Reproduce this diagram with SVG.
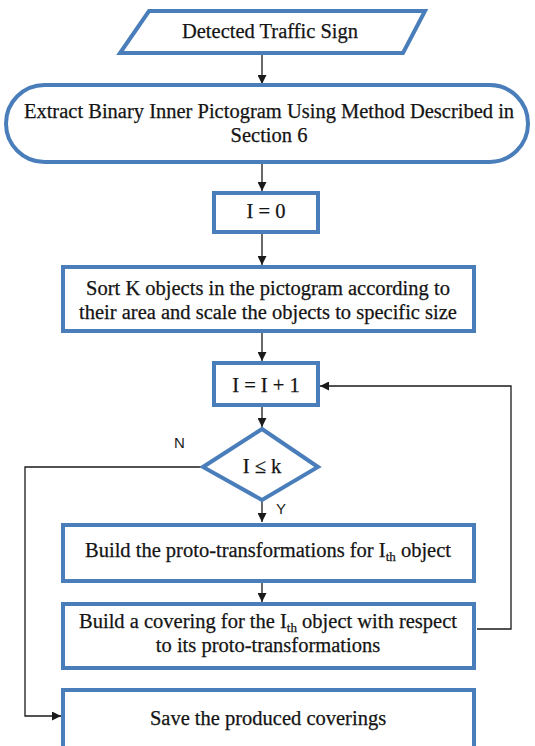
<svg xmlns="http://www.w3.org/2000/svg" width="535" height="746" viewBox="0 0 535 746">
  <style>
    .shape { fill: #ffffff; stroke: #4a7ebb; stroke-width: 4; }
    .label { font-family: 'Liberation Serif', 'DejaVu Serif', serif; font-size: 20.5px; fill: #141414; stroke: #141414; stroke-width: 0.25; text-anchor: middle; }
    .flag { font-family: 'Liberation Sans', Arial, sans-serif; font-size: 15px; fill: #1a1a1a; }
    .wire { fill: none; stroke: #1a1a1a; stroke-width: 1.3; }
    .sub { font-size: 13px; }
  </style>
  <defs>
    <marker id="arrow" viewBox="0 0 10 10" refX="10" refY="5" markerWidth="9" markerHeight="9" markerUnits="userSpaceOnUse" orient="auto">
      <path d="M0,0 L10,5 L0,10 z" fill="#1a1a1a"/>
    </marker>
  </defs>
  <rect width="535" height="746" fill="#ffffff"/>

  <g id="connectors">
    <line class="wire" x1="262" y1="55" x2="262" y2="84" marker-end="url(#arrow)"/>
    <line class="wire" x1="262" y1="163" x2="262" y2="191" marker-end="url(#arrow)"/>
    <line class="wire" x1="262" y1="233" x2="262" y2="265" marker-end="url(#arrow)"/>
    <line class="wire" x1="262" y1="333" x2="262" y2="361" marker-end="url(#arrow)"/>
    <line class="wire" x1="262" y1="406" x2="262" y2="427" marker-end="url(#arrow)"/>
    <line class="wire" x1="262" y1="501" x2="262" y2="522" marker-end="url(#arrow)"/>
    <line class="wire" x1="262" y1="582" x2="262" y2="602" marker-end="url(#arrow)"/>
    <polyline class="wire" points="477,629 511,629 511,386 320,386" marker-end="url(#arrow)"/>
    <polyline class="wire" points="202,467 25,467 25,716 61,716" marker-end="url(#arrow)"/>
    <text class="flag" x="174" y="448">N</text>
    <text class="flag" x="276" y="514">Y</text>
  </g>

  <g id="detected-sign">
    <polygon class="shape" points="149,11 425,11 403,53 120,53"/>
    <text class="label" x="270" y="38">Detected Traffic Sign</text>
  </g>

  <g id="extract-pictogram">
    <rect class="shape" x="6" y="85" width="522" height="77" rx="38.5" ry="38.5"/>
    <text class="label" x="269" y="118">Extract Binary Inner Pictogram Using Method Described in</text>
    <text class="label" x="269" y="142">Section 6</text>
  </g>

  <g id="init-counter">
    <rect class="shape" x="214" y="193" width="104" height="39"/>
    <text class="label" x="266" y="218">I = 0</text>
  </g>

  <g id="sort-objects">
    <rect class="shape" x="63" y="267" width="411" height="64"/>
    <text class="label" x="268" y="295">Sort K objects in the pictogram according to</text>
    <text class="label" x="268" y="319">their area and scale the objects to specific size</text>
  </g>

  <g id="increment-counter">
    <rect class="shape" x="214" y="363" width="104" height="42"/>
    <text class="label" x="266" y="392">I = I + 1</text>
  </g>

  <g id="loop-test">
    <polygon class="shape" points="262,429 318,467 262,500 203,467"/>
    <text class="label" x="262" y="473">I ≤ k</text>
  </g>

  <g id="build-proto">
    <rect class="shape" x="63" y="525" width="411" height="56"/>
    <text class="label" x="268" y="557">Build the proto-transformations for I<tspan class="sub" dy="4">th</tspan><tspan dy="-4"> object</tspan></text>
  </g>

  <g id="build-covering">
    <rect class="shape" x="63" y="604" width="411" height="64"/>
    <text class="label" x="268" y="628">Build a covering for the I<tspan class="sub" dy="4">th</tspan><tspan dy="-4"> object with respect</tspan></text>
    <text class="label" x="268" y="652">to its proto-transformations</text>
  </g>

  <g id="save-coverings">
    <rect class="shape" x="63" y="690" width="411" height="62"/>
    <text class="label" x="268" y="725">Save the produced coverings</text>
  </g>
</svg>
